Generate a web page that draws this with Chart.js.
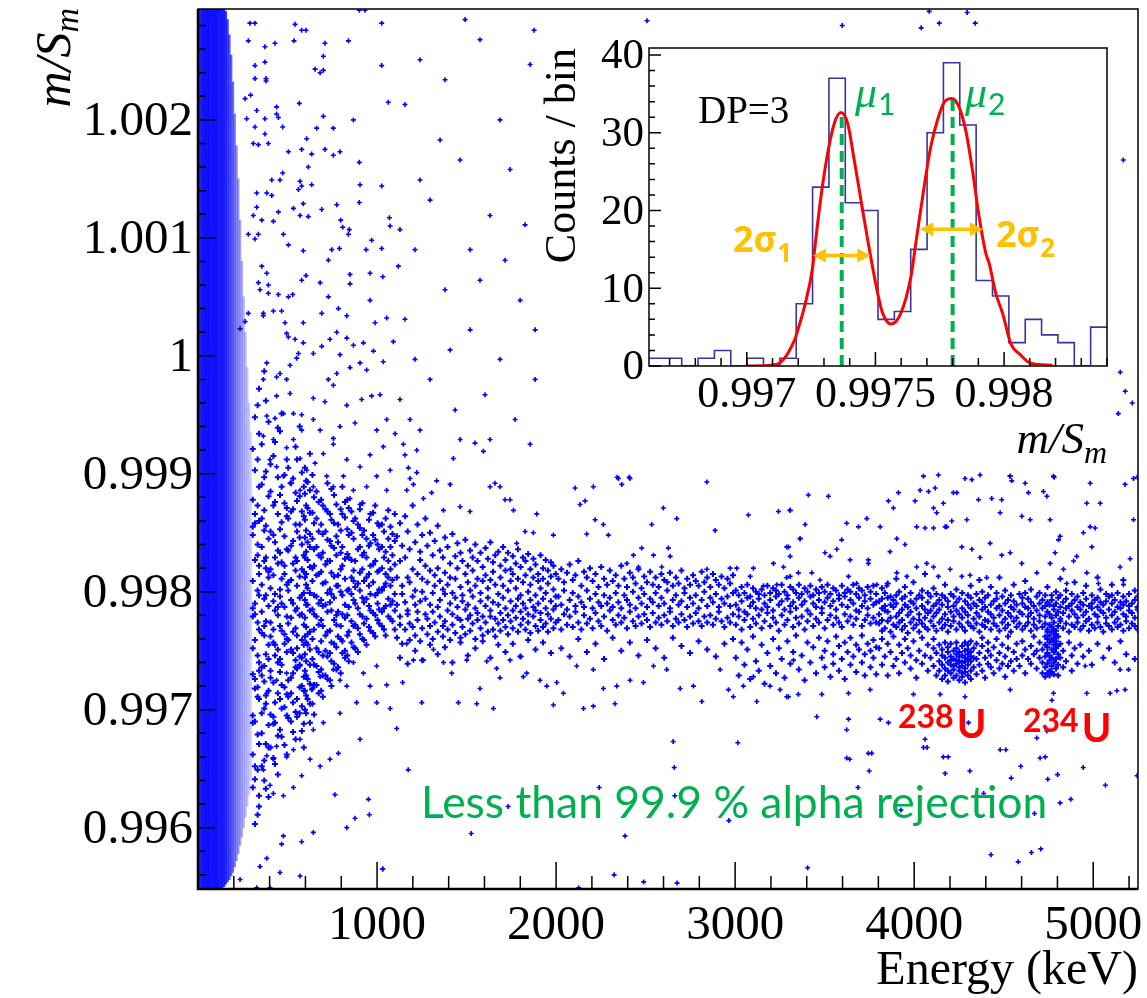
<!DOCTYPE html>
<html>
<head>
<meta charset="utf-8">
<script src="https://cdn.jsdelivr.net/npm/chart.js@4.4.1/dist/chart.umd.min.js"></script>
<style>
  html, body { margin: 0; padding: 0; background: #fff; }
  #wrap { position: relative; width: 1147px; height: 998px; }
  #main { display: block; }
  #inset { position: absolute; left: 540px; top: 20px; }
</style>
</head>
<body>
<div id="wrap">
<canvas id="main" width="1147" height="998"></canvas>
<canvas id="inset" width="575" height="451"></canvas>
</div>
<script>
// main plot: Energy (keV) vs m/S_m
var xTicks = [1000, 2000, 3000, 4000, 5000];
var yTicks = [0.996, 0.997, 0.998, 0.999, 1, 1.001, 1.002];

// m/S_m is kept as u = (m/S_m - 0.99) * 1e5 so the lists stay short

// dense low energy region, 10 keV bins: centre, lowest / highest u, share of the area covered by dots
var coreE = [5, 15, 25, 35, 45, 55, 65, 75, 85, 95, 105, 115, 125, 135, 145,
             155, 165, 175, 185, 195, 205, 215, 225, 235, 245, 255, 265, 275, 285, 295];
var coreLo = [548, 548, 548, 548, 548, 548, 548, 548, 548, 548, 548, 548, 548, 548, 550,
              552, 554, 556, 559, 562, 567, 572, 578, 585, 592, 600, 609, 618, 628, 640];
var coreHi = [1294, 1294, 1294, 1294, 1294, 1294, 1294, 1294, 1294, 1294, 1294, 1294, 1294, 1294, 1294,
              1292, 1285, 1272, 1255, 1232, 1205, 1178, 1150, 1115, 1080, 1050, 1020, 990, 960, 935];
var coreFill = [0.8, 0.86, 0.9, 0.9, 0.9, 0.9, 0.9, 0.9, 0.9, 0.9, 0.9, 0.88, 0.87, 0.86, 0.84,
                0.8, 0.74, 0.68, 0.62, 0.56, 0.5, 0.45, 0.4, 0.36, 0.32, 0.28, 0.25, 0.22, 0.19, 0.16];

// events in the band, by energy column  "E: u u u ..."
var bandCols = [
  "306:634 662 689 695 730 752 779 786 809 848 855 878 921",
  "318:603 641 652 690 718 726 759 781 790 827 858 866 903 948",
  "333:611 649 679 711 719 746 774 801 831 840 873 912 958",
  "341:618 627 671 709 733 740 768 797 815 822 860 889 934 972",
  "356:652 680 697 729 736 765 783 806 838 862 891 925",
  "370:640 657 701 724 737 763 771 794 826 852 869 897 987",
  "379:633 671 705 712 747 775 797 820 829 856 902 962",
  "394:626 668 687 716 743 755 788 812 817 845 881 944",
  "405:668 696 727 733 762 774 803 819 851 885 908",
  "421:659 688 694 723 757 768 792 814 848 873 915",
  "430:654 689 706 746 755 784 798 829 842 876 927",
  "446:645 678 714 740 751 780 787 824 835 866 897 939",
  "458:683 709 732 743 771 796 802 833 853 882 936",
  "467:677 701 721 738 767 790 811 825 859 889 951",
  "483:670 702 719 756 764 787 815 822 847 875 899",
  "496:662 695 713 749 760 779 806 836 864 871 912",
  "504:693 711 725 759 773 801 808 835 862 905",
  "520:690 714 727 751 778 793 810 839 868 892",
  "531:681 706 731 748 766 790 824 843 870 896",
  "545:675 698 736 742 769 784 818 829 857 884 923",
  "553:694 709 735 752 763 786 805 826 851 877 912",
  "568:697 719 738 745 780 795 813 846 857 881 940",
  "580:682 703 720 744 759 781 797 819 840 868 901",
  "591:668 688 716 728 755 772 799 817 831 864 889",
  "597:700 716 733 747 762 778 793 812 829 846 861 883 905",
  "604:697 712 729 741 757 770 789 806 815 834 852 873 894",
  "612:709 726 755 764 789 803 827 842 871 893",
  "625:689 705 722 738 751 766 784 799 821 838 849 867 886 917",
  "639:705 718 743 760 785 809 820 845 867 899",
  "648:696 721 738 768 781 797 822 836 858 880",
  "662:721 737 752 779 796 814 838 862 885",
  "674:714 732 749 772 790 815 831 851 876",
  "688:716 734 758 776 793 817 829 857 878",
  "697:711 729 746 771 788 807 833 849 873",
  "712:729 750 763 789 808 823 851 870",
  "723:726 745 766 783 799 826 844 868 892",
  "737:725 748 767 791 802 826 843 866",
  "745:720 741 757 784 798 816 839 861 887",
  "760:739 756 776 795 813 837 858 882",
  "773:734 753 772 780 805 831 847 874",
  "782:736 762 783 805 814 842 857",
  "797:731 760 771 800 819 833 852 870",
  "806:748 758 781 797 822 838 866 889",
  "821:744 750 778 789 811 828 863 876",
  "834:746 763 780 801 832 853 878",
  "842:741 766 787 802 829 848 871",
  "857:757 775 798 812 827 850 868",
  "869:753 771 793 809 818 845 860",
  "878:752 772 790 804 826 862",
  "893:749 769 786 807 836 857",
  "904:764 781 801 816 838 854 870",
  "918:760 779 795 819 831 848 875",
  "927:759 773 791 809 833 852",
  "941:755 777 794 812 829 845",
  "955:770 788 805 815 839 861",
  "963:767 784 798 822 841 866",
  "978:765 782 808 823 848 867",
  "990:762 780 797 826 844 873",
  "1003:776 790 799 817 840 858",
  "1012:773 785 802 818 836 856",
  "1027:771 783 801 820 838 857",
  "1039:768 786 804 829 851",
  "1048:763 788 807 815 834 862",
  "1063:779 794 812 826 845 869",
  "1075:777 789 805 819 838 855",
  "1086:775 792 810 831 849",
  "1099:768 784 798 823 843 866",
  "1111:761 789 812 847",
  "1128:772 779 826 858 744",
  "1140:756 798 805 839",
  "1157:768 791 829 864",
  "1171:781 784 812 851 739",
  "1182:759 773 808 836",
  "1199:770 796 819 873",
  "1213:763 789 801 842 750",
  "1226:776 783 815 857",
  "1241:758 792 827 834",
  "1252:769 800 811 848 742",
  "1270:781 794 822 862",
  "1281:764 777 808 839",
  "1296:771 789 818 850 755",
  "1311:760 783 799 831",
  "1322:774 805 814 843",
  "1339:766 787 820 856 747",
  "1351:779 793 809 835",
  "1368:762 771 802 829",
  "1379:775 798 816 846 753",
  "1394:768 784 806 838",
  "1408:759 790 812 824",
  "1421:772 781 799 849 740",
  "1437:765 795 811 830",
  "1449:778 787 820 841",
  "1466:761 776 804 833 757",
  "1477:770 792 797 826",
  "1493:764 785 815 844",
  "1507:777 789 808 822 746",
  "1520:767 780 801 835",
  "1534:773 796 818 829",
  "1549:760 786 805 840 752",
  "1561:776 782 811 826",
  "1578:769 792 799 833",
  "1590:763 779 809 821 758",
  "1606:774 788 814 837",
  "1619:766 795 803 828",
  "1633:779 784 810 842 744",
  "1648:768 791 817 825",
  "1660:762 777 806 831",
  "1677:773 789 798 834 755",
  "1689:767 782 812 822",
  "1704:776 795 805 838",
  "1717:770 786 818 827 749",
  "1731:764 780 801 833",
  "1746:775 792 809 819",
  "1758:769 784 815 830 756",
  "1775:778 788 803 824",
  "1787:766 794 811 836",
  "1802:772 783 797 821 745",
  "1815:777 790 808 829",
  "1829:768 786 814 826",
  "1844:774 781 800 832 759",
  "1856:765 793 806 819",
  "1873:779 787 812 828",
  "1885:771 784 797 823 751",
  "1900:767 790 809 815",
  "1913:776 782 803 831",
  "1927:770 794 811 820 757",
  "1942:773 786 799 827",
  "1954:766 781 807 818",
  "1971:777 792 813 825 748",
  "1985:769 785 802 822",
  "1998:774 788 796 815",
  "2013:776 796 811",
  "2029:768 789 819 752",
  "2044:781 801 808",
  "2061:772 785 816",
  "2076:779 793 823 745",
  "2093:770 799 810",
  "2108:783 788 814",
  "2124:774 796 826 760",
  "2141:768 791 805",
  "2156:780 787 817",
  "2172:773 801 812 749",
  "2189:777 794 820",
  "2204:769 786 809",
  "2220:782 798 815 756",
  "2237:775 791 804",
  "2252:771 788 821",
  "2268:779 797 811 743",
  "2285:767 790 806",
  "2300:784 795 818",
  "2316:776 787 809 761",
  "2333:772 799 814",
  "2348:780 791 805",
  "2364:774 786 822 750",
  "2381:778 797 811",
  "2396:769 793 804",
  "2412:783 789 816 757",
  "2429:775 800 812",
  "2444:771 786 807",
  "2460:779 795 819 746",
  "2477:773 790 803",
  "2492:781 798 813",
  "2508:776 787 808 759",
  "2525:770 794 817",
  "2540:782 791 806",
  "2556:774 799 812 752",
  "2573:778 788 804",
  "2588:772 795 815",
  "2604:780 790 810 744",
  "2621:775 801 808",
  "2636:783 786 816",
  "2652:771 793 805 761",
  "2669:777 797 812",
  "2684:774 789 807",
  "2700:781 792 818 754",
  "2717:776 799 803",
  "2732:770 787 811",
  "2748:779 795 806 748",
  "2765:773 790 814",
  "2780:782 797 809",
  "2796:775 786 805 758",
  "2813:771 793 817",
  "2828:779 800 808",
  "2844:774 788 812 751",
  "2861:780 795 804",
  "2876:772 791 815",
  "2892:777 798 810 745",
  "2909:783 787 806",
  "2924:775 794 813",
  "2940:770 790 803 756",
  "2957:778 796 811",
  "2972:774 788 807",
  "2988:781 799 814 760",
  "3004:772 789 801 744",
  "3020:779 785 797 729",
  "3036:768 792 804 757",
  "3052:776 783 799 738",
  "3068:781 795 806 751",
  "3084:770 788 796 726",
  "3100:777 791 803 762",
  "3116:773 786 800 741",
  "3132:780 794 798 733",
  "3148:769 785 802 755",
  "3164:775 790 797 722",
  "3180:782 787 805 748",
  "3196:771 793 799 737",
  "3212:778 784 803 760",
  "3228:774 796 801 731",
  "3244:767 789 798 752",
  "3260:780 792 806 743",
  "3276:772 785 800 727",
  "3292:776 794 797 758",
  "3308:783 788 804 739",
  "3324:770 791 802 749",
  "3340:778 786 799 763",
  "3356:773 795 806 734",
  "3372:779 789 798 746",
  "3388:768 792 803 725",
  "3404:775 784 800 757",
  "3420:781 796 805 740",
  "3436:771 790 797 753",
  "3452:777 787 802 731",
  "3468:774 793 799 761",
  "3484:782 786 804 744",
  "3500:769 791 800 736 750",
  "3516:776 795 806 758",
  "3532:780 788 798 728",
  "3548:772 792 803 747 739",
  "3564:778 785 801 762",
  "3580:774 794 797 733 754",
  "3596:770 789 805 743",
  "3612:781 796 799 757 726",
  "3628:775 787 802 749",
  "3644:779 793 800 738 761",
  "3660:772 790 806 745",
  "3676:777 784 798 732 755",
  "3692:783 795 803 751",
  "3708:771 788 801 740 763",
  "3724:776 792 797 747 729",
  "3740:780 786 804 756",
  "3756:773 794 800 736 750",
  "3772:778 789 805 744 759",
  "3788:774 791 798 730 753",
  "3804:773 781 792 752",
  "3820:767 776 786 794 803 738 760",
  "3836:769 784 788 799 745",
  "3852:775 783 795 807 729 756",
  "3868:766 778 789 796 749",
  "3884:772 787 793 737 762",
  "3900:770 779 790 797 743 811",
  "3916:774 782 800 755 731",
  "3932:768 776 785 794 748",
  "3948:771 789 796 804 740 760",
  "3964:765 780 787 752",
  "3980:774 783 792 799 735 746",
  "3996:769 777 790 808 758",
  "4012:772 786 794 742 727",
  "4028:766 776 781 797 750",
  "4044:773 788 795 801 739 761",
  "4060:770 778 785 746 815",
  "4076:768 782 791 799 755 733",
  "4092:775 784 796 744",
  "4108:771 779 788 803 737 752 760",
  "4124:767 782 790 798 748 729",
  "4140:774 785 793 741 755 733",
  "4156:769 777 789 797 746 726 738 751",
  "4172:772 781 795 806 735 744 757 729",
  "4188:766 776 787 792 740 749 724 753 733",
  "4204:771 783 798 745 731 756 738 742",
  "4220:775 779 788 796 737 750 727 743 734",
  "4236:768 784 791 802 742 729 752 739 747 757",
  "4252:773 781 794 736 745 725 749 733 741",
  "4268:770 778 786 799 740 731 754 746 737 728",
  "4284:767 783 792 744 735 750 723 741 757 732",
  "4300:774 780 789 797 747 738 755 729 743 751",
  "4316:771 786 795 805 741 733 749 726 745 758",
  "4332:769 777 790 736 752 744",
  "4348:773 782 788 798 743 730 756",
  "4364:766 779 793 748 738 810",
  "4380:772 785 791 800 733 754 761",
  "4396:770 776 787 795 744 727",
  "4412:775 783 797 750 739 757",
  "4428:768 781 789 804 736 746",
  "4444:773 778 792 753 731",
  "4460:771 786 794 799 742 760",
  "4476:767 780 788 748 735 812",
  "4492:774 784 796 739 755",
  "4508:769 777 790 801 745 728",
  "4524:772 782 793 752 737 762",
  "4540:766 779 787 797 741",
  "4556:775 785 792 806 749 733",
  "4572:770 778 789 756 743",
  "4588:773 783 798 737",
  "4604:768 781 790 795 746 758",
  "4620:771 787 799 731 751 809",
  "4636:774 779 786 794 743",
  "4652:767 782 791 802 754 739",
  "4668:772 777 788 747 762",
  "4684:769 784 796 735 750",
  "4700:775 780 790 799 744 757",
  "4716:770 786 793 740 751 731",
  "4732:773 779 788 797 736 745 755 762 728",
  "4744:768 783 791 804 731 739 748 753 760 766",
  "4756:772 781 789 733 742 746 757 763 729",
  "4768:770 778 793 797 737 744 751 759 766 732",
  "4780:774 785 788 730 740 749 755 761 767",
  "4792:767 780 790 800 735 743 752 758 764",
  "4804:771 783 795 738 747 754 762 729",
  "4816:775 777 787 797 744 756 811",
  "4832:769 782 791 750 736",
  "4848:773 786 794 801 741",
  "4864:766 779 788 757",
  "4880:772 784 790 798 746 733",
  "4896:770 781 793 752 808",
  "4912:774 778 787 796 739",
  "4928:768 785 791 755",
  "4944:771 780 789 799 745",
  "4960:775 783 794 805",
  "4976:767 777 788 750",
  "4992:772 786 790 797 738",
  "5008:769 781 793",
  "5024:774 779 787 795 756 812",
  "5040:770 784 791 802",
  "5056:766 782 789 744",
  "5072:773 778 792 798",
  "5088:771 785 796 752",
  "5104:768 780 790 797 806",
  "5120:774 783 793 740",
  "5136:770 777 787 799",
  "5152:772 786 791 758",
  "5168:767 781 789 796 810",
  "5184:775 779 792 747",
  "5200:769 784 788 798",
  "5216:773 782 790",
  "5232:771 778 793 801 743",
  "5248:768 785 787 796"
];

// isolated events "E u"
var sparsePts = `290 1282;318 1282;542 1281;579 1276;603 1276;1026 1282;901 1293;933 1293;281 1267;374 1262;430 1265;536 1267;709 1265;840 1267;700 1254;654 1243;682 1240;700 1242;1026 1246;318 1246;374 1249;318 1235;380 1235;380 1233;263 1218;294 1221;439 1211;566 1214;1063 1215;700 1203;868 1200;756 1193;663 1193;449 1202;439 1205;328 1208;272 1201;318 1194;374 1201;473 1194;374 1188;607 1184;337 1179;309 1180;393 1180;505 1173;579 1175;635 1171;709 1175;756 1170;793 1173;901 1164;616 1160;473 1155;458 1149;412 1149;570 1148;561 1141;579 1144;635 1145;905 1145;1026 1144;901 1130;533 1125;588 1129;691 1124;775 1128;328 1138;384 1138;412 1136;449 1122;328 1126;309 1119;356 1115;421 1114;570 1119;616 1118;797 1115;808 1109;845 1107;840 1103;1069 1117;1073 1110;970 1098;1026 1091;939 1090;790 1091;747 1090;588 1089;505 1094;477 1103;337 1103;318 1099;281 1103;1119 1076;728 1081;849 1069;961 1070;1032 1067;849 1061;603 1068;579 1064;682 1062;384 1070;356 1076;337 1062;346 1056;393 1060;393 1053;449 1052;505 1050;529 1052;467 1038;421 1038;365 1036;365 1034;784 1040;728 1050;961 1047;831 1034;1054 1032;989 1028;691 1036;588 1028;486 1028;281 1036;263 1029;235 1023;
495 1019;505 1016;542 1014;588 1011;644 1002;691 1008;737 1014;775 1020;831 1015;868 1009;924 1011;980 1004;1035 995;1091 1012;793 1001;849 990;905 994;942 988;775 985;728 980;756 975;561 1002;551 998;514 992;458 985;495 980;439 982;384 994;365 980;439 966;514 968;644 964;709 961;831 958;914 963;970 966;1017 967;1054 946;998 937;877 943;793 940;756 930;682 937;644 946;579 950;533 951;477 951;430 947;384 949;579 937;533 929;495 922;570 913;607 903;654 909;700 917;756 925;831 912;905 906;961 916;1035 923;1101 934;1073 903;998 898;1054 886;942 889;868 886;812 898;849 879;905 874;756 889;719 898;644 889;570 886;514 892;477 898;439 906;402 912;421 929;365 932;
384 714;439 725;495 731;570 737;635 717;682 728;756 734;793 725;886 706;831 720;868 740;924 731;961 720;998 737;1054 721;1073 701;1110 684;998 706;905 675;793 697;700 689;644 683;570 675;533 666;495 660;439 669;421 658;384 661;365 649;402 636;421 629;477 627;533 634;579 644;626 658;682 652;737 658;784 663;765 628;952 624;877 608;957 611;831 600;644 596;579 588;477 593;467 586;384 574;346 567;458 562;570 559;1032 565;402 549;328 549;235 556;
1147 925;1156 916;1222 920;1175 905;1184 896;1222 901;1166 886;1203 891;1259 879;1305 884;1333 894;1408 891;1426 913;1547 926;1594 919;1371 869;1464 872;1519 868;1631 889;1659 892;1687 889;1715 878;1743 878;1762 869;1892 866;2106 888;2208 889;2348 896;2367 891;2413 896;2134 874;2162 877;2218 861;2264 857;2292 848;2171 849;2599 871;2674 862;2534 857;2842 893;2888 852;3074 865;3242 868;3307 869;1873 850;1827 851;1780 841;1985 848;3363 845;3298 838;3307 830;3214 824;3102 820;3009 820;2972 820;3084 813;3158 805;3233 806;3288 812;3353 816;2842 819;2627 837;2637 830;2590 821;2544 831;2478 837;2432 831;2395 824;2460 821;
1203 742;1259 742;1371 740;1417 731;1501 742;1575 718;1613 741;1668 735;1687 727;1743 742;1817 728;1836 731;1910 725;1948 720;2004 723;2041 714;2115 737;2208 734;2264 718;2339 720;2413 725;2488 723;2544 737;2618 734;2693 718;2767 720;2814 707;2916 734;2963 717;2990 711;3046 720;3102 728;3121 707;3195 720;3251 717;3298 711;3326 742;1143 723;1250 706;1454 706;1557 705;1650 701;1985 704;2153 701;2208 703;2329 705;1799 745;1315 751;1166 756;
4052 898;4135 899;4284 896;4322 895;4368 899;4536 898;4545 894;4620 892;4778 898;5225 896;5178 891;4983 892;4964 875;5011 854;5039 875;3409 882;3521 881;3856 877;3884 871;3912 884;4005 877;4033 886;4080 885;4117 888;4108 871;4126 867;4163 875;4219 884;4238 884;4210 860;4182 855;4294 861;4359 878;4433 879;4489 878;4480 867;4601 864;4648 861;4638 884;4722 885;4741 881;4759 861;4815 847;4787 833;4806 844;4945 850;4983 855;4992 838;4908 830;4890 826;4964 816;5029 807;5150 821;5169 806;5206 828;5225 861;3307 869;3391 857;3623 858;3689 855;3735 862;3810 855;3865 834;3903 845;3949 840;4014 855;4061 854;4108 854;4173 855;4266 838;4322 836;4424 841;4489 831;4536 833;4601 824;4685 816;4759 824;4834 819;4852 807;4368 829;4405 812;4312 814;4266 813;4201 819;4135 813;4108 821;4070 824;4014 821;3959 813;3903 816;3847 805;3791 806;3744 824;3744 827;3679 807;3642 827;3633 813;3595 844;3568 836;3530 830;3502 833;3474 810;3428 816;3363 845;3288 838;3307 813;3270 821;
3288 711;3353 713;3484 713;3633 714;3754 717;3456 694;3633 692;3623 683;3810 692;3856 689;3996 713;4061 675;4052 668;4145 713;4163 660;4303 689;4284 711;4480 666;4536 717;4685 676;4741 682;4778 714;4769 708;4703 659;5094 714;5132 716;5178 717;4964 714;4955 737;5150 734;5197 734;3744 663;3623 659;
1031 565;1174 649;1526 595;1732 618;2241 634;2385 593;2324 560;2126 549;2489 554;2654 673;2660 651;2663 627;2676 553;2965 606;3015 672;3405 566;3640 658;3763 663;3749 648;3686 634;3926 615;4072 668;4190 660;4173 646;4311 648;4388 629;4429 577;4512 666;4542 642;4595 652;4581 571;4655 579;4707 582;4672 612;4732 660;4746 641;4801 645;4815 621;4875 624;4944 651;5068 636;5245 644;
1877 1276;2508 1284;3598 1280;4039 1278;4084 1292;4140 1282;4296 1291;4341 1282;5168 1166;5151 986;5179 970;5218 960;5140 951;5246 897;2341 897;2408 897;4536 898;4782 897;
1156 1213;1240 1251;1380 1234;1575 1268;1631 1119;1743 1158;1464 1166;1296 1132;1212 1090;1380 1056;1520 1022;1687 997;1799 1047;1156 1031;1296 980;1436 954;1603 967;1771 946;1883 980;1184 946;1520 1090;1827 1111;1687 1200;1855 1247;1352 1183;1492 1285;1240 1149;1128 1107;1575 1064;1715 1081;1883 1022;1408 1005;1212 997;1631 929;1855 925;1128 963;1240 937;1464 929`;

// inset: m/S_m histogram for DP=3 with a double gaussian fit
var histMin = 0.99662, histMax = 0.99840;
var histCounts = [1, 1, 0, 1, 2, 0, 1, 0, 1, 8, 23, 37, 21, 20, 6, 7, 15, 30, 39, 31, 11, 9, 3, 6, 4, 3, 0, 5];
var fitX = [0.997001, 0.997094, 0.997133, 0.997185, 0.997198, 0.997224, 0.997256, 0.997262, 0.997288, 0.997314,
            0.997340, 0.997366, 0.997392, 0.997418, 0.997444, 0.997470, 0.997489, 0.997509, 0.997528, 0.997560,
            0.997599, 0.997638, 0.997657, 0.997689, 0.997715, 0.997741, 0.997767, 0.997796, 0.997825, 0.997851,
            0.997877, 0.997903, 0.997929, 0.997942, 0.997968, 0.997994, 0.998026, 0.998065, 0.998104, 0.998188];
var fitY = [0, 0.1, 0.5, 3.3, 4.6, 7.6, 12.7, 14.5, 21.7, 27.3,
            31.2, 32.6, 31.2, 26.4, 21.3, 16.2, 12.7, 9.3, 6.8, 5.4,
            6.8, 11.5, 15.8, 23.0, 28.2, 31.6, 33.9, 34.4, 33.3, 30.3,
            25.2, 19.2, 14.5, 13.2, 9.3, 6.8, 2.9, 1.4, 0.35, 0.1];
var muX = [0.997369, 0.997800];
var muTop = [32.8, 34.4];
var sigLo = [0.997257, 0.997674];
var sigHi = [0.997480, 0.997918];
var sigY = [14.2, 17.6];
var insetXTicks = [0.997, 0.9975, 0.998];
var insetYTicks = [0, 10, 20, 30, 40];


function toM(u) { return 0.99 + u * 1e-5; }

var bandPoints = [];
bandCols.forEach(function (col) {
  var parts = col.split(':');
  var e = +parts[0];
  parts[1].trim().split(/\s+/).forEach(function (u) { bandPoints.push({ x: e, y: toM(+u) }); });
});

var sparsePoints = sparsePts.split(';').map(function (s) {
  var p = s.trim().split(/\s+/).map(Number);
  return { x: p[0], y: toM(p[1]) };
});

var coreBars = coreE.map(function (e, i) { return { x: e, y: [toM(coreLo[i]), toM(coreHi[i])] }; });

var serif = '"Liberation Serif", serif';
Chart.defaults.font.family = serif;

function line(ctx, x0, y0, x1, y1) { ctx.moveTo(x0, y0); ctx.lineTo(x1, y1); }
function fmt(v, d) { return String(+Number(v).toFixed(d)); }

var mainDeco = {
  id: 'mainDeco',
  beforeDraw: function (chart) {
    var c = chart.ctx;
    c.save(); c.fillStyle = '#fff'; c.fillRect(0, 0, chart.width, chart.height); c.restore();
  },
  afterDraw: function (chart) {
    var c = chart.ctx, a = chart.chartArea, xs = chart.scales.x, ys = chart.scales.y;
    c.save();
    c.strokeStyle = '#000';
    c.lineWidth = 1.5;
    c.strokeRect(a.left, a.top, a.right - a.left, a.bottom - a.top);
    c.lineWidth = 2.5;
    c.beginPath(); c.moveTo(a.left, a.top); c.lineTo(a.left, a.bottom); c.lineTo(a.right, a.bottom); c.stroke();

    // ticks point into the frame, ROOT style
    c.lineWidth = 1.5;
    c.beginPath();
    for (var k = 0; k * 200 <= xs.max; k++) {
      var px = xs.getPixelForValue(k * 200);
      line(c, px, a.bottom, px, a.bottom - (k % 5 === 0 ? 27 : 13));
    }
    for (var j = 4978; j <= 5014; j++) {
      var py = ys.getPixelForValue(j * 0.0002);
      line(c, a.left, py, a.left + (j % 5 === 0 ? 17 : 8), py);
    }
    c.stroke();

    // tick labels
    c.fillStyle = '#000';
    c.font = '49px ' + serif;
    c.textAlign = 'center'; c.textBaseline = 'alphabetic';
    xTicks.forEach(function (v) { c.fillText(fmt(v, 0), xs.getPixelForValue(v), 939); });
    c.textAlign = 'right'; c.textBaseline = 'middle';
    yTicks.forEach(function (v) { c.fillText(fmt(v, 3), a.left - 5, ys.getPixelForValue(v) + 2); });

    // axis titles
    c.textBaseline = 'alphabetic';
    c.font = '48px ' + serif;
    c.textAlign = 'right';
    c.fillText('Energy (keV)', a.right, 984);

    c.textAlign = 'left';
    c.save();
    c.translate(70, a.top - 1);
    c.rotate(-Math.PI / 2);
    c.font = 'italic 50px ' + serif;
    var w1 = c.measureText('m/S').width;
    c.font = 'italic 34px ' + serif;
    var w2 = c.measureText('m').width;
    c.font = 'italic 50px ' + serif;
    c.fillText('m/S', -(w1 + w2), 0);
    c.font = 'italic 34px ' + serif;
    c.fillText('m', -w2, 8);
    c.restore();

    // annotations
    c.fillStyle = '#00b050';
    c.font = '40px Lato';
    var tw = c.measureText('Less than 99.9 % alpha rejection').width;
    c.font = (40 * 626 / tw).toFixed(1) + 'px Lato';
    c.fillText('Less than 99.9 % alpha rejection', 421, 818);

    c.fillStyle = '#ff0000';
    [['238', 898, 728], ['234', 1023, 732]].forEach(function (t) {
      c.font = 'bold 32px Lato';
      var w = c.measureText(t[0]).width;
      c.fillText(t[0], t[1], t[2]);
      c.font = 'bold 40px Lato';
      c.fillText('U', t[1] + w + 3, t[2] + 10);
    });
    c.restore();
  }
};

new Chart(document.getElementById('main'), {
  type: 'scatter',
  data: {
    datasets: [
      {
        type: 'bar',
        data: coreBars,
        backgroundColor: coreFill.map(function (f) { return 'rgba(0,0,255,' + f + ')'; }),
        borderWidth: 0,
        barPercentage: 1,
        categoryPercentage: 1,
        order: 3
      },
      {
        data: bandPoints,
        pointStyle: 'cross',
        pointRadius: 3,
        pointBorderWidth: 2,
        pointBorderColor: '#0000ff',
        borderColor: '#0000ff',
        order: 2
      },
      {
        data: sparsePoints,
        pointStyle: 'cross',
        pointRadius: 2.5,
        pointBorderWidth: 1.6,
        pointBorderColor: '#0000ff',
        borderColor: '#0000ff',
        order: 1
      }
    ]
  },
  options: {
    responsive: false,
    animation: false,
    events: [],
    layout: { padding: { top: 9, right: 9, left: 0, bottom: 0 } },
    plugins: { legend: { display: false }, tooltip: { enabled: false } },
    scales: {
      x: {
        type: 'linear', min: 0, max: 5250, offset: false,
        grid: { display: false, drawTicks: false, offset: false },
        border: { display: false },
        ticks: { display: false },
        afterBuildTicks: function (s) { s.ticks = xTicks.map(function (v) { return { value: v }; }); },
        afterFit: function (s) { s.height = 109; s.paddingLeft = 0; s.paddingRight = 0; }
      },
      y: {
        type: 'linear', min: 0.99548, max: 1.00294,
        grid: { display: false, drawTicks: false },
        border: { display: false },
        ticks: { display: false },
        afterBuildTicks: function (s) { s.ticks = yTicks.map(function (v) { return { value: v }; }); },
        afterFit: function (s) { s.width = 198; s.paddingTop = 0; s.paddingBottom = 0; }
      }
    }
  },
  plugins: [mainDeco]
});

// ---------- inset ----------
var edges = histCounts.map(function (c, i) { return histMin + i * (histMax - histMin) / histCounts.length; });
var histPts = histCounts.map(function (c, i) { return { x: edges[i], y: c }; });
histPts.push({ x: histMax, y: histCounts[histCounts.length - 1] });

var fitPts = fitX.map(function (x, i) { return { x: x, y: fitY[i] }; });

var muSets = muX.map(function (x, i) {
  return {
    data: [{ x: x, y: 0 }, { x: x, y: muTop[i] }],
    borderColor: '#00b050', borderWidth: 4, borderDash: [11, 6], pointRadius: 0, order: 0
  };
});

function arrow(c, x0, x1, y) {
  var hl = 13, hw = 7;
  c.beginPath(); c.moveTo(x0 + hl - 2, y); c.lineTo(x1 - hl + 2, y); c.stroke();
  c.beginPath(); c.moveTo(x0, y); c.lineTo(x0 + hl, y - hw); c.lineTo(x0 + hl, y + hw); c.closePath(); c.fill();
  c.beginPath(); c.moveTo(x1, y); c.lineTo(x1 - hl, y - hw); c.lineTo(x1 - hl, y + hw); c.closePath(); c.fill();
}

var insetDeco = {
  id: 'insetDeco',
  beforeDraw: function (chart) {
    var c = chart.ctx;
    c.save(); c.clearRect(0, 0, chart.width, chart.height);
    c.fillStyle = '#fff'; c.fillRect(0, 15, chart.width, chart.height - 15); c.restore();
  },
  afterDraw: function (chart) {
    var c = chart.ctx, a = chart.chartArea, xs = chart.scales.x, ys = chart.scales.y;
    c.save();
    c.strokeStyle = '#000';
    c.lineWidth = 1.5;
    c.strokeRect(a.left, a.top, a.right - a.left, a.bottom - a.top);
    c.beginPath();
    for (var k = 9967; k <= 9984; k++) {
      var px = xs.getPixelForValue(k * 0.0001);
      line(c, px, a.bottom, px, a.bottom - (k % 5 === 0 ? 14 : 8));
    }
    for (var j = 0; j <= 20; j++) {
      var py = ys.getPixelForValue(j * 2);
      line(c, a.left, py, a.left + (j % 5 === 0 ? 12 : 6), py);
    }
    c.stroke();

    // tick labels
    c.fillStyle = '#000';
    c.font = '44px ' + serif;
    c.textAlign = 'center'; c.textBaseline = 'alphabetic';
    insetXTicks.forEach(function (v) { c.fillText(fmt(v, 4), xs.getPixelForValue(v), 387); });
    c.font = '43px ' + serif;
    c.textAlign = 'right'; c.textBaseline = 'middle';
    insetYTicks.forEach(function (v) { c.fillText(fmt(v, 0), a.left - 5, ys.getPixelForValue(v) + 2); });

    // sigma arrows
    c.strokeStyle = '#ffc000'; c.fillStyle = '#ffc000'; c.lineWidth = 3.5;
    sigLo.forEach(function (lo, i) {
      arrow(c, xs.getPixelForValue(lo), xs.getPixelForValue(sigHi[i]), ys.getPixelForValue(sigY[i]));
    });

    c.textBaseline = 'alphabetic';
    c.textAlign = 'left';
    c.fillStyle = '#000';
    c.font = '39px ' + serif;
    c.fillText('DP=3', 158, 103);

    // axis titles
    c.save();
    c.translate(35, a.top);
    c.rotate(-Math.PI / 2);
    c.textAlign = 'right';
    c.font = '44px ' + serif;
    c.fillText('Counts / bin', 0, 0);
    c.restore();

    c.font = 'italic 32px ' + serif;
    var ws = c.measureText('m').width;
    c.font = 'italic 45px ' + serif;
    var wm = c.measureText('m/S').width;
    c.fillText('m/S', a.right - ws - wm, 433);
    c.font = 'italic 32px ' + serif;
    c.fillText('m', a.right - ws, 443);

    // mu labels
    c.fillStyle = '#00b050';
    [['1', 315], ['2', 425]].forEach(function (t) {
      c.font = 'italic 44px ' + serif;
      var w = c.measureText('\u03bc').width;
      c.fillText('\u03bc', t[1], 87);
      c.font = '30px Lato';
      c.fillText(t[0], t[1] + w + 1, 95);
    });

    // sigma labels
    c.fillStyle = '#ffc000';
    [['1', 193, 232], ['2', 456, 227]].forEach(function (t) {
      c.font = 'bold 36px "Noto Sans"';
      var w = c.measureText('2\u03c3').width;
      c.fillText('2\u03c3', t[1], t[2]);
      c.font = 'bold 26px "Noto Sans"';
      c.fillText(t[0], t[1] + w, t[2] + 10);
    });
    c.restore();
  }
};

new Chart(document.getElementById('inset'), {
  type: 'line',
  data: {
    datasets: muSets.concat([
      { data: fitPts, borderColor: '#ff0000', borderWidth: 3, pointRadius: 0, cubicInterpolationMode: 'monotone', order: 1 },
      { data: histPts, borderColor: '#3535a6', borderWidth: 1.6, pointRadius: 0, stepped: true, order: 2 }
    ])
  },
  options: {
    responsive: false,
    animation: false,
    events: [],
    layout: { padding: { top: 28, right: 8, left: 0, bottom: 0 } },
    plugins: { legend: { display: false }, tooltip: { enabled: false } },
    scales: {
      x: {
        type: 'linear', min: histMin, max: histMax,
        grid: { display: false, drawTicks: false },
        border: { display: false },
        ticks: { display: false },
        afterBuildTicks: function (s) { s.ticks = insetXTicks.map(function (v) { return { value: v }; }); },
        afterFit: function (s) { s.height = 105; s.paddingLeft = 0; s.paddingRight = 0; }
      },
      y: {
        type: 'linear', min: 0, max: 40.9,
        grid: { display: false, drawTicks: false },
        border: { display: false },
        ticks: { display: false },
        afterBuildTicks: function (s) { s.ticks = insetYTicks.map(function (v) { return { value: v }; }); },
        afterFit: function (s) { s.width = 109; s.paddingTop = 0; s.paddingBottom = 0; }
      }
    }
  },
  plugins: [insetDeco]
});
</script>
</body>
</html>
